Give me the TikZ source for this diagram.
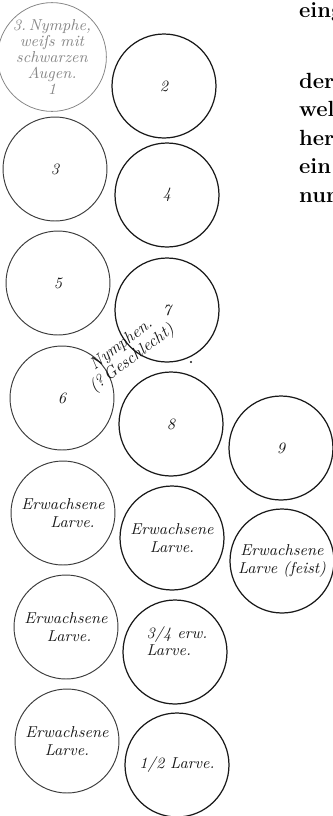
\documentclass[tikz,border=0pt]{standalone}
\usepackage{fontspec}
\usepackage{xcolor}
\usepackage{tikz}
\definecolor{inkblack}{RGB}{25,25,25}
\definecolor{inkgray}{RGB}{60,60,60}
\definecolor{fadegray}{RGB}{135,135,135}

\begin{document}
\begin{tikzpicture}[x=0.02cm,y=-0.02cm,
  every node/.style={font=\fontsize{9}{9.8}\selectfont\itshape,text=inkblack},
  dish/.style={draw=inkblack,circle,line width=0.7pt,minimum size=2.08cm,inner sep=0pt,align=center},
  dishleft/.style={dish,draw=inkgray,line width=0.55pt},
  pagetext/.style={anchor=base west,text=black,
    font=\fontsize{12.5}{15}\selectfont\bfseries\addfontfeature{LetterSpace=1}}]
  \useasboundingbox (0,0) rectangle (333,816);
  \clip (0,0) rectangle (333,816);
  % faded first dish
  \node[dish,draw=fadegray,line width=0.45pt,minimum size=2.0cm,text=fadegray,
        font=\fontsize{9}{9.2}\selectfont\itshape] (d1) at (52,57)
        {3.\,Nymphe,\\weiſs mit\\schwarzen\\Augen.\\1};
  % left column
  \node[dishleft] (d3) at (55,169) {3};
  \node[dishleft] (d5) at (58,283) {5};
  \node[dishleft] (d6) at (62,398) {6};
  \node[dishleft] (e1) at (63,513) {Erwachsene\\\hspace*{1.2em}Larve.};
  \node[dishleft] (e4) at (66,627) {Erwachsene\\\hspace*{0.4em}Larve.};
  \node[dishleft] (e5) at (67,741) {Erwachsene\\Larve.};
  % middle column
  \node[dish] (d2) at (164,86) {2};
  \node[dish] (d4) at (167,195) {4};
  \node[dish] (d7) at (167,310) {7};
  \node[dish] (d8) at (171,424) {8};
  \node[dish] (e2) at (172,538) {Erwachsene\\Larve.};
  \node[dish] (d34) at (175,652) {};
  \node[align=left] (t34) at (177,641) {3/4 erw.\\Larve.};
  \node[dish] (d12) at (177,765) {1/2 Larve.};
  % right column
  \node[dish] (d9) at (281,448) {9};
  \node[dish] (e3) at (282,561) {Erwachsene\\Larve (feist)};
  % slanted note between the dishes
  \node[rotate=37,align=center,font=\fontsize{9.5}{10}\selectfont\itshape] (nymph) at (127,352)
        {Nymphen.\\(?\,Geschlecht)};
  \fill[inkblack] (191,362) circle (0.7pt);
  % neighbouring page, cut at the edge
  \node[pagetext] (p1) at (293,17) {eing};
  \node[pagetext] (p2) at (293,88) {der};
  \node[pagetext] (p3) at (293,116.5) {wel};
  \node[pagetext] (p4) at (293,145) {her};
  \node[pagetext] (p5) at (293,173.5) {ein};
  \node[pagetext] (p6) at (293,202) {nur};
\end{tikzpicture}
\end{document}
